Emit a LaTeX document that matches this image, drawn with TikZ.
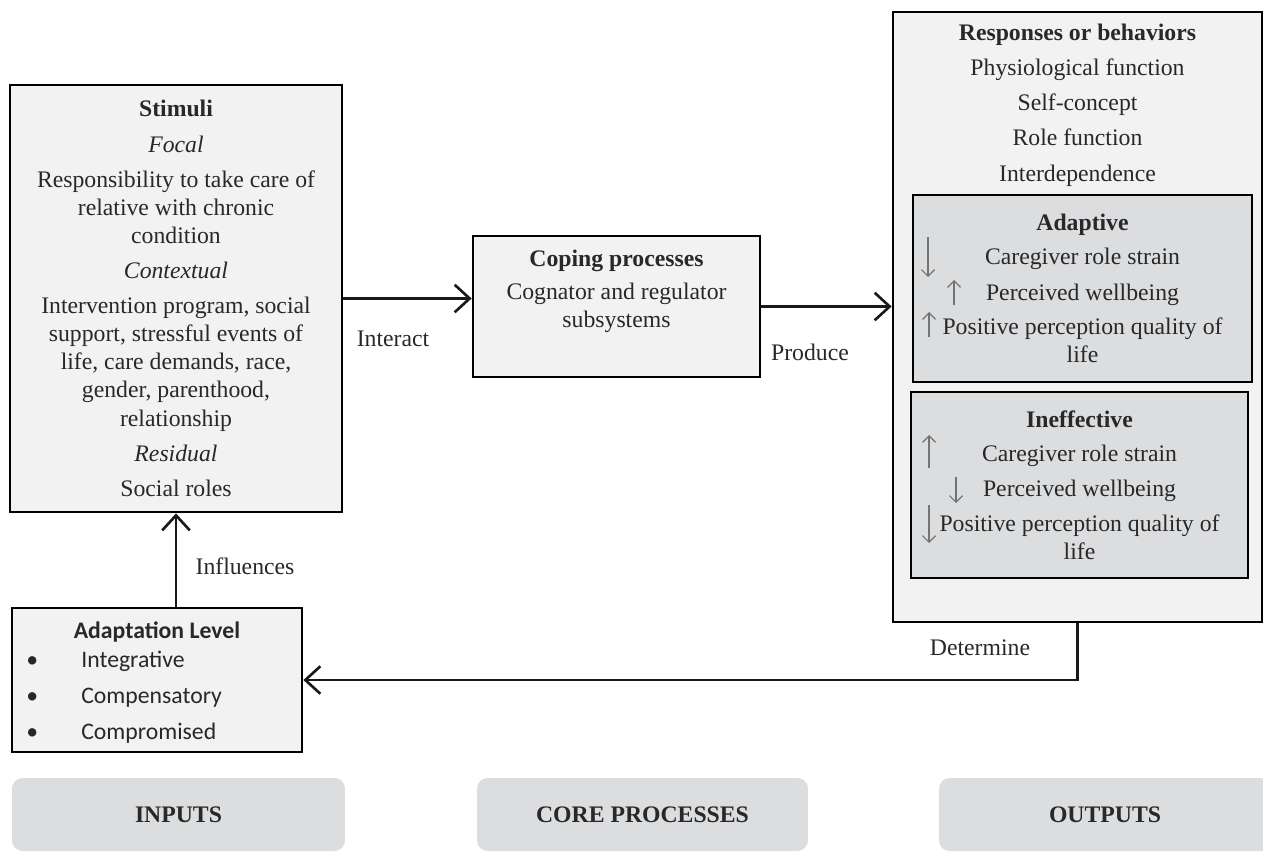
\documentclass[tikz,border=0pt]{standalone}
\usepackage{fontspec}
\setmainfont{Liberation Serif}
\newfontfamily\timesfont{Liberation Serif}
\newfontfamily\calibri{Carlito}
\usetikzlibrary{arrows.meta, positioning, calc}
\definecolor{BoxFill}{RGB}{242, 242, 243}
\definecolor{InnerFill}{RGB}{220, 221, 223}
\definecolor{TabFill}{RGB}{220, 221, 223}
\definecolor{InkGrey}{RGB}{40, 40, 40}
\definecolor{TrendGrey}{RGB}{115, 115, 115}

\begin{document}
\begin{tikzpicture}[
    x=0.02cm, y=-0.02cm,
    >={Straight Barb[length=3mm, width=5.5mm]},
    % Define styles for the elements
    main box/.style={
        rectangle,
        draw=black,
        fill=BoxFill,           % very light grey
        line width=1.6pt,
        inner sep=0pt
    },
    sub box/.style={
        rectangle,
        draw=black,
        fill=InnerFill,         % mid grey for the two outcome boxes
        line width=1.6pt,
        inner sep=0pt,
        align=center,
        text=InkGrey,
        font=\timesfont\fontsize{13.5}{16}\selectfont
    },
    box text/.style={
        align=center,
        inner sep=0pt,
        text=InkGrey,
        font=\timesfont\fontsize{13.5}{16}\selectfont
    },
    phase tab/.style={
        rectangle,
        rounded corners=6pt,
        fill=TabFill,
        minimum width=#1,
        minimum height=1.46cm,
        text=InkGrey,
        font=\timesfont\fontsize{13.5}{16}\selectfont\bfseries
    },
    flow/.style={
        ->,
        line width=1.5pt,
        draw=black!90
    },
    flow label/.style={
        text=InkGrey,
        font=\timesfont\fontsize{13.5}{16}\selectfont
    },
    trend/.style={
        -{Straight Barb[length=1.3mm, width=2.6mm]},
        draw=TrendGrey,
        line width=0.7pt
    }
]
    \useasboundingbox (0,0) rectangle (1263,853);

    % --- Inputs ---
    \node[main box, box text, minimum width=6.64cm, minimum height=8.54cm] (stimuli) at (176,298.5) {
        \textbf{Stimuli}\\[4pt]
        \textit{Focal}\\[4pt]
        Responsibility to take care of\\
        relative with chronic\\
        condition\\[4pt]
        \textit{Contextual}\\[4pt]
        Intervention program, social\\
        support, stressful events of\\
        life, care demands, race,\\
        gender, parenthood,\\
        relationship\\[4pt]
        \textit{Residual}\\[4pt]
        Social roles
    };

    \node[main box, minimum width=5.8cm, minimum height=2.88cm] (adapt) at (157,680) {};
    \node[box text, font=\calibri\fontsize{13.5}{16}\selectfont\bfseries, below=0.3cm of adapt.north] (adapttitle) {Adaptation Level};
    \node[box text, font=\calibri\fontsize{13.5}{16}\selectfont, anchor=west] (adaptlist) at (26,698) {
        \begin{tabular}{@{}p{1.1cm}@{}l@{}}
        \textbullet & Integrative\\[4.5pt]
        \textbullet & Compensatory\\[4.5pt]
        \textbullet & Compromised
        \end{tabular}
    };

    % --- Core processes ---
    \node[main box, minimum width=5.74cm, minimum height=2.82cm] (coping) at (616.5,306.5) {};
    \node[box text, below=0.3cm of coping.north] (copingtxt) {
        \textbf{Coping processes}\\[3pt]
        Cognator and regulator\\
        subsystems
    };

    % --- Outputs ---
    \node[main box, minimum width=7.38cm, minimum height=12.2cm] (resp) at (1077.5,317) {};
    \node[box text, below=0.26cm of resp.north] (resptxt) {
        \textbf{Responses or behaviors}\\[4pt]
        Physiological function\\[4pt]
        Self-concept\\[4pt]
        Role function\\[4pt]
        Interdependence
    };

    \node[sub box, minimum width=6.78cm, minimum height=3.74cm] (adaptive) at (1082.5,288.5) {
        \textbf{Adaptive}\\[3.5pt]
        Caregiver role strain\\[4pt]
        Perceived wellbeing\\[3.5pt]
        Positive perception quality of\\
        life
    };
    % up / down marks
    \draw[trend] (928,237) -- (928,277);
    \draw[trend] (954,305) -- (954,280);
    \draw[trend] (929,337) -- (929,312);

    \node[sub box, minimum width=6.74cm, minimum height=3.72cm] (ineffective) at (1079.5,485) {
        \textbf{Ineffective}\\[3.5pt]
        Caregiver role strain\\[4pt]
        Perceived wellbeing\\[3.5pt]
        Positive perception quality of\\
        life
    };
    \draw[trend] (929,468) -- (929,435);
    \draw[trend] (956,477) -- (956,503);
    \draw[trend] (929,505) -- (929,543);

    % --- Connections ---
    \draw[flow] (stimuli.east) -- (stimuli.east -| coping.west);
    \draw[flow] (coping.east) -- (coping.east -| resp.west);
    \draw[flow] (adapt.north -| stimuli.south) -- (stimuli.south);
    \draw[flow] (resp.south) |- (adapt.east);

    \node[flow label] (interact) at (393,339) {Interact};
    \node[flow label] (produce) at (810,352) {Produce};
    \node[flow label] (influences) at (245,566) {Influences};
    \node[flow label] (determine) at (980,648) {Determine};

    % --- Phase tabs ---
    \node[phase tab=6.66cm] (inputs) at (178.5,814.5) {INPUTS};
    \node[phase tab=6.62cm] (core) at (642.5,814.5) {CORE PROCESSES};
    \node[phase tab=6.64cm] (outputs) at (1105,814.5) {OUTPUTS};

\end{tikzpicture}
\end{document}
